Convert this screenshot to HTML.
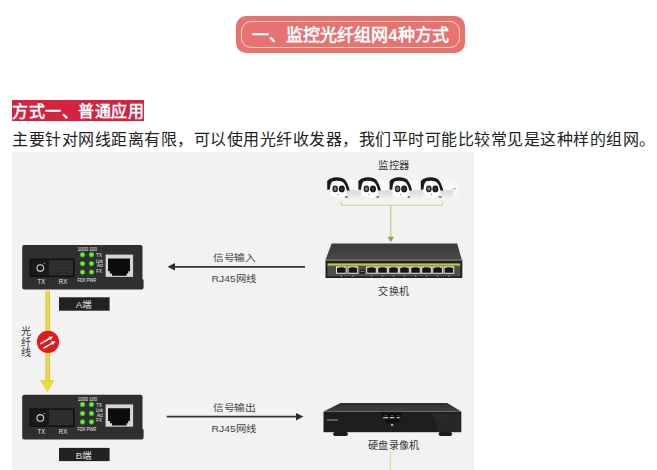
<!DOCTYPE html>
<html lang="zh-CN"><head><meta charset="utf-8">
<style>
*{margin:0;padding:0;box-sizing:border-box}
html,body{width:657px;height:470px;overflow:hidden;background:#fff;font-family:"Liberation Sans",sans-serif}
.abs{position:absolute}
#pill{left:236px;top:16px;width:229px;height:37px;background:#e87272;border-radius:10px}
#pillin{left:241px;top:21px;width:219px;height:27px;border:1px solid #f9e2b8;border-radius:10px}
#pilltxt{left:236px;top:17px;width:229px;height:37px;line-height:37px;text-align:center;color:#fff;font-weight:bold;font-size:17px;white-space:nowrap}
#h2{left:12px;top:100px;width:132px;height:21px;background:#d6213f;color:#fff;font-weight:bold;font-size:16px;letter-spacing:0.5px;line-height:21px;padding-top:1px;white-space:nowrap}
#p{left:12px;top:129px;font-size:16px;letter-spacing:0.5px;line-height:22px;color:#222;white-space:nowrap}
svg{position:absolute;left:0;top:0}
svg text{font-family:"Liberation Sans",sans-serif}
</style></head><body>
<div id="pill" class="abs"></div>
<div id="pillin" class="abs"></div>
<div id="pilltxt" class="abs">一、监控光纤组网4种方式</div>
<div id="h2" class="abs">方式一、普通应用</div>
<div id="p" class="abs">主要针对网线距离有限，可以使用光纤收发器，我们平时可能比较常见是这种样的组网。</div>
<svg width="657" height="470" viewBox="0 0 657 470">
<defs>
  <linearGradient id="camsh" x1="0" y1="0" x2="0" y2="1"><stop offset="0" stop-color="#d9d9d9"/><stop offset="1" stop-color="#ededed"/></linearGradient>
  <g id="cam">
    <path d="M343 179.6 L361 180 L361.5 190.5 L347 190.5 Z" fill="#f9f9f9"/>
    <path d="M346 190.2 L361.5 190.2 L360 197.6 L348.5 197.8 Z" fill="url(#camsh)"/>
    <circle cx="338.2" cy="189" r="8.7" fill="#fdfdfd"/>
    <path d="M327.2 189.8 L327.2 181 Q331 177.2 337 177.3 Q342.5 177.5 345 179.8 Q348 183.5 349.7 190.4 L346.9 190.4 Q345.5 184.5 342.8 182 Q338 180 332.5 181.2 Q330.2 183 330 189.6 Z" fill="#1b1b1b"/>
    <ellipse cx="335.2" cy="188.9" rx="2.8" ry="3.3" fill="#262626"/>
    <ellipse cx="335.2" cy="188.9" rx="1.4" ry="1.8" fill="#858585"/>
    <ellipse cx="341.8" cy="188.9" rx="3" ry="3.4" fill="#1a1a1a"/>
    <ellipse cx="341.8" cy="188.9" rx="1.3" ry="1.6" fill="#3c3c3c"/>
    <circle cx="338" cy="194.6" r="0.6" fill="#777"/>
    <path d="M345.5 196 L348 196.5 L347.5 198 L345 197.5 Z" fill="#666"/>
  </g>
  <radialGradient id="led"><stop offset="0" stop-color="#8ef45c"/><stop offset="0.6" stop-color="#5fdc30"/><stop offset="1" stop-color="#2f8f1c"/></radialGradient>
  <g id="conv">
    <path d="M24.2 245 H140.5 Q142.5 245 142.5 247 V279.4 H143.6 V287.6 Q143.6 289.6 141.6 289.6 H24.2 Q22.2 289.6 22.2 287.6 V247 Q22.2 245 24.2 245 Z" fill="#2f2f2f"/>
    <rect x="29.6" y="258.6" width="45.1" height="18.6" fill="#0f0f0f"/>
    <rect x="30.8" y="260.1" width="18.2" height="15.5" fill="#1a1a1a"/>
    <rect x="49" y="260.1" width="24.1" height="15.5" fill="#303030"/>
    <g stroke="#262626" stroke-width="0.5"><path d="M49 263 H73 M49 266.5 H73 M49 270 H73 M49 273 H73"/></g>
    <circle cx="40.3" cy="268.1" r="3.3" fill="none" stroke="#d5d5d5" stroke-width="1.1"/>
    <circle cx="44.5" cy="263.6" r="0.6" fill="#bbb"/>
    <g fill="#ececec" font-size="6.6">
      <text x="37.6" y="284.1" textLength="7.4" lengthAdjust="spacingAndGlyphs">TX</text>
      <text x="58.8" y="284.1" textLength="8.4" lengthAdjust="spacingAndGlyphs">RX</text>
    </g>
    <g fill="url(#led)">
      <circle cx="82.5" cy="254.7" r="2.7"/><circle cx="91.5" cy="254.7" r="2.7"/>
      <circle cx="82.5" cy="263.6" r="2.7"/><circle cx="91.5" cy="263.6" r="2.7"/>
      <circle cx="82.5" cy="272.1" r="2.7"/><circle cx="91.5" cy="272.1" r="2.7"/>
    </g>
    <g fill="#f2f2f2" font-size="4.9">
      <text x="77.8" y="250.9" textLength="19.2" lengthAdjust="spacingAndGlyphs">1000 100</text>
      <text x="96.3" y="256.9" textLength="5.4" lengthAdjust="spacingAndGlyphs">TX</text>
      <text x="96" y="262.6" textLength="7" lengthAdjust="spacingAndGlyphs">Link</text>
      <text x="97" y="266.8" textLength="6" lengthAdjust="spacingAndGlyphs">Act</text>
      <text x="96.3" y="272.6" textLength="5.4" lengthAdjust="spacingAndGlyphs">FX</text>
      <text x="77.4" y="281.6" textLength="18.9" lengthAdjust="spacingAndGlyphs">FDX PWR</text>
    </g>
    <rect x="105.6" y="254.6" width="27.5" height="22.3" fill="#d6d6d6"/>
    <path d="M108 258.4 H130 V271.3 H128.2 V273.4 H126.6 V275.8 H112 V273.4 H110 V271.3 H108 Z" fill="#0c0c0c"/>
  </g>
</defs>
<rect x="12" y="152" width="462" height="318" fill="#f2f2f2"/>

<!-- cameras -->
<text x="378" y="169.2" font-size="9.8" fill="#333" textLength="31.6" lengthAdjust="spacingAndGlyphs">监控器</text>
<use href="#cam"/>
<use href="#cam" x="31.2"/>
<use href="#cam" x="62.4"/>
<use href="#cam" x="93.6"/>
<path d="M454 180.2 L458 180.6 L458 197 L453 197.5 Z" fill="#f6f6f6"/>
<rect x="452.5" y="188.3" width="3.5" height="0.8" fill="#999"/>
<!-- green lines -->
<g stroke="#bdd68f" stroke-width="1" fill="none">
  <path d="M341.3 201.5 V205.3 H442.5 V201.5"/>
  <path d="M390.7 205.3 V237" stroke="#b9d28a" stroke-width="1.3"/>
  <path d="M390.4 452 V470" stroke="#d3e6ae" stroke-width="1.4"/>
</g>
<path d="M387.6 236.8 L394 236.8 L390.8 242.2 Z" fill="#8aa842"/>

<!-- switch -->
<defs><linearGradient id="swtop" x1="0" y1="0" x2="0" y2="1"><stop offset="0" stop-color="#3b3b3b"/><stop offset="1" stop-color="#474747"/></linearGradient></defs>
<path d="M331.6 243.6 H457.2 L461.8 259.8 H325.5 Z" fill="url(#swtop)"/>
<rect x="325.5" y="259.6" width="137" height="1" fill="#5a5a5a"/>
<rect x="325.5" y="260.6" width="136.8" height="17.4" fill="#202020"/>
<rect x="327.5" y="265.5" width="132.8" height="10.8" fill="#4e4e4e"/>
<rect x="327.5" y="263.4" width="132.8" height="2.3" fill="#c4c63c"/>
<rect x="336" y="266.3" width="10.6" height="7.4" fill="#e6e6e6"/>
<path d="M337 267.8 H339 V267.2 H343.6 V267.8 H345.6 V272.7 H337 Z" fill="#151515"/>
<rect x="340.6" y="275.6" width="1.4" height="0.9" fill="#bdbdbd"/>
<rect x="347.6" y="266.3" width="10.6" height="7.4" fill="#e6e6e6"/>
<path d="M348.6 267.8 H350.6 V267.2 H355.20000000000005 V267.8 H357.20000000000005 V272.7 H348.6 Z" fill="#151515"/>
<rect x="352.20000000000005" y="275.6" width="1.4" height="0.9" fill="#bdbdbd"/>
<rect x="366.2" y="266.3" width="10.6" height="7.4" fill="#e6e6e6"/>
<path d="M367.2 267.8 H369.2 V267.2 H373.8 V267.8 H375.8 V272.7 H367.2 Z" fill="#151515"/>
<rect x="370.8" y="275.6" width="1.4" height="0.9" fill="#bdbdbd"/>
<rect x="377.2" y="266.3" width="10.6" height="7.4" fill="#e6e6e6"/>
<path d="M378.2 267.8 H380.2 V267.2 H384.8 V267.8 H386.8 V272.7 H378.2 Z" fill="#151515"/>
<rect x="381.8" y="275.6" width="1.4" height="0.9" fill="#bdbdbd"/>
<rect x="388.2" y="266.3" width="10.6" height="7.4" fill="#e6e6e6"/>
<path d="M389.2 267.8 H391.2 V267.2 H395.8 V267.8 H397.8 V272.7 H389.2 Z" fill="#151515"/>
<rect x="392.8" y="275.6" width="1.4" height="0.9" fill="#bdbdbd"/>
<rect x="399.2" y="266.3" width="10.6" height="7.4" fill="#e6e6e6"/>
<path d="M400.2 267.8 H402.2 V267.2 H406.8 V267.8 H408.8 V272.7 H400.2 Z" fill="#151515"/>
<rect x="403.8" y="275.6" width="1.4" height="0.9" fill="#bdbdbd"/>
<rect x="410.2" y="266.3" width="10.6" height="7.4" fill="#e6e6e6"/>
<path d="M411.2 267.8 H413.2 V267.2 H417.8 V267.8 H419.8 V272.7 H411.2 Z" fill="#151515"/>
<rect x="414.8" y="275.6" width="1.4" height="0.9" fill="#bdbdbd"/>
<rect x="421.2" y="266.3" width="10.6" height="7.4" fill="#e6e6e6"/>
<path d="M422.2 267.8 H424.2 V267.2 H428.8 V267.8 H430.8 V272.7 H422.2 Z" fill="#151515"/>
<rect x="425.8" y="275.6" width="1.4" height="0.9" fill="#bdbdbd"/>
<rect x="432.3" y="266.3" width="10.6" height="7.4" fill="#e6e6e6"/>
<path d="M433.3 267.8 H435.3 V267.2 H439.90000000000003 V267.8 H441.90000000000003 V272.7 H433.3 Z" fill="#151515"/>
<rect x="436.90000000000003" y="275.6" width="1.4" height="0.9" fill="#bdbdbd"/>
<rect x="443.6" y="266.3" width="10.6" height="7.4" fill="#e6e6e6"/>
<path d="M444.6 267.8 H446.6 V267.2 H451.20000000000005 V267.8 H453.20000000000005 V272.7 H444.6 Z" fill="#151515"/>
<rect x="448.20000000000005" y="275.6" width="1.4" height="0.9" fill="#bdbdbd"/>
<rect x="360" y="269.8" width="4.6" height="3.8" fill="#1a1a1a"/><rect x="360.5" y="271.2" width="3.6" height="0.7" fill="#aaa"/>
<circle cx="333" cy="272.9" r="1.1" fill="#a83535"/>
<text x="378.4" y="294.9" font-size="9.8" fill="#333" textLength="30.8" lengthAdjust="spacingAndGlyphs">交换机</text>

<!-- arrows -->
<text x="213" y="260.6" font-size="9.2" fill="#444" textLength="42.2" lengthAdjust="spacingAndGlyphs">信号输入</text>
<text x="211.6" y="281.6" font-size="9.2" fill="#444" textLength="44.2" lengthAdjust="spacingAndGlyphs">RJ45网线</text>
<path d="M175 266.8 H305" stroke="#333" stroke-width="1.8"/>
<path d="M167.5 266.8 L175 263 L175 270.6 Z" fill="#2e2e2e"/>
<text x="213" y="410.6" font-size="9.2" fill="#444" textLength="42.2" lengthAdjust="spacingAndGlyphs">信号输出</text>
<text x="211.6" y="431.6" font-size="9.2" fill="#444" textLength="44.2" lengthAdjust="spacingAndGlyphs">RJ45网线</text>
<path d="M166.8 416.6 H297" stroke="#333" stroke-width="1.8"/>
<path d="M303.4 416.6 L296 412.9 L296 420.4 Z" fill="#2e2e2e"/>

<!-- converters -->
<use href="#conv"/>
<rect x="59" y="297.3" width="50.6" height="13.4" fill="#222"/>
<text x="84" y="308.3" font-size="9.6" fill="#dcdcdc" text-anchor="middle">A端</text>
<use href="#conv" y="149.8"/>
<rect x="59" y="447.9" width="50.6" height="13.2" fill="#222"/>
<text x="84" y="458.8" font-size="9.6" fill="#dcdcdc" text-anchor="middle">B端</text>

<!-- fiber -->
<rect x="45.5" y="291.5" width="4.4" height="90" fill="#cbb83c"/>
<rect x="46.3" y="291.5" width="2.8" height="90" fill="#ecdc40"/>
<path d="M40.6 380.4 L54 380.4 L47.5 391.6 Z" fill="#ece12a" stroke="#d2c53a" stroke-width="0.5"/>
<circle cx="47.95" cy="341.9" r="11.1" fill="#df1b1f"/>
<g fill="#fff"><path d="M40.67 344.45 L49.93 339.14 L50.55 340.22 L53.20 336.40 L48.56 336.76 L49.18 337.84 L39.93 343.15 Z"/><path d="M43.67 348.95 L52.34 343.95 L52.96 345.03 L55.60 341.20 L50.96 341.57 L51.59 342.65 L42.93 347.65 Z"/></g>
<text x="21.1" y="335.3" font-size="10.2" fill="#333">光</text>
<text x="21.1" y="345.7" font-size="10.2" fill="#333">纤</text>
<text x="21.1" y="355.6" font-size="10.2" fill="#333">线</text>

<!-- NVR -->
<defs><linearGradient id="nvrtop" x1="0" y1="0" x2="0" y2="1"><stop offset="0" stop-color="#2e2e2e"/><stop offset="1" stop-color="#424242"/></linearGradient></defs>
<path d="M340.5 402.9 H447.2 L461.3 411.6 H323.5 Z" fill="url(#nvrtop)"/>
<rect x="323.5" y="411.6" width="137.8" height="20.6" fill="#1e1e1e"/>
<path d="M431.8 413.3 H460 V431.5 H438.2 Q436 421 431.8 413.3 Z" fill="#272727"/>
<path d="M434 415.5 H445 M435 418 H446" stroke="#333" stroke-width="0.6"/>
<rect x="333.2" y="432" width="14.6" height="4" rx="1.8" fill="#1c1c1c"/>
<rect x="438.7" y="432" width="13.4" height="4" rx="1.8" fill="#1c1c1c"/>
<rect x="327.1" y="419.5" width="11" height="1" fill="#9a9a9a"/>
<path d="M380.4 412.3 H402.9 L398 422.7 H386 Z" fill="#0f0f0f"/>
<g fill="#d0d0d0"><rect x="383.1" y="417.1" width="5.2" height="1.2"/><rect x="389.8" y="417.1" width="4.6" height="1.2"/><rect x="396.8" y="417.1" width="2.8" height="1.2"/></g>
<g fill="#888"><rect x="384.8" y="415.3" width="1.6" height="0.8"/><rect x="391.2" y="415.3" width="1.6" height="0.8"/><rect x="397.6" y="415.3" width="1.4" height="0.8"/></g>
<rect x="391" y="424" width="2.2" height="2" fill="#aaa"/>
<text x="368" y="448.7" font-size="9.8" fill="#333" textLength="51.4" lengthAdjust="spacingAndGlyphs">硬盘录像机</text>
</svg>
</body></html>
